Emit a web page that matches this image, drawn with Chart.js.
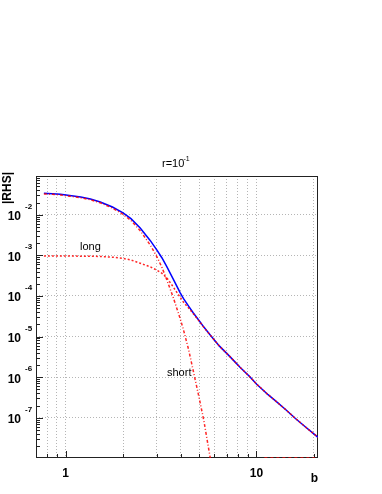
<!DOCTYPE html>
<html>
<head>
<meta charset="utf-8">
<script src="https://cdn.jsdelivr.net/npm/chart.js@4.4.0/dist/chart.umd.min.js"></script>
<style>
  html, body { margin: 0; padding: 0; background: #fff; }
  #wrap { width: 382px; height: 494px; }
</style>
</head>
<body>
<div id="wrap"><canvas id="rhs" width="382" height="494"></canvas></div>
<script>
// impact parameter b and |RHS|
const bValues = [0.77, 0.85, 0.94, 1.05, 1.2, 1.35, 1.52, 1.76, 2.0, 2.2, 2.46, 2.78, 3.01, 3.2, 3.39, 3.67,
  3.98, 4.14, 4.4, 4.67, 5.0, 5.3, 5.71, 6.4, 7.26, 8.2, 9.23, 10, 11.5, 12.5, 14.3, 16, 18, 21];
const totalRHS = [0.0336, 0.0330, 0.0318, 0.0297, 0.0273, 0.0244, 0.0206, 0.0155, 0.01107, 0.0080, 0.0047,
  0.0023, 0.00135, 8.6e-4, 5.3e-4, 2.55e-4, 1.21e-4, 8.7e-5, 5.7e-5, 3.8e-5, 2.48e-5, 1.71e-5, 1.11e-5,
  5.8e-6, 3.2e-6, 1.75e-6, 1.02e-6, 6.8e-7, 3.7e-7, 2.67e-7, 1.55e-7, 9.6e-8, 6.0e-8, 3.3e-8];
const longRHS = [9.6e-4, 9.6e-4, 9.6e-4, 9.6e-4, 9.55e-4, 9.5e-4, 9.4e-4, 9.0e-4, 8.4e-4, 7.7e-4, 6.4e-4,
  5.2e-4, 4.3e-4, 3.6e-4, 2.8e-4, 1.65e-4, 9.3e-5, 7.1e-5, 5.1e-5, 3.65e-5, 2.43e-5, 1.69e-5, 1.1e-5,
  5.8e-6, 3.2e-6, 1.75e-6, 1.02e-6, 6.8e-7, 3.7e-7, 2.67e-7, 1.55e-7, 9.6e-8, 6.0e-8, 3.3e-8];
const shortB = [0.77, 0.85, 0.94, 1.05, 1.2, 1.35, 1.52, 1.76, 2.0, 2.2, 2.46, 2.78, 3.01, 3.2, 3.39, 3.67,
  3.98, 4.14, 4.4, 4.67, 5.0, 5.3, 5.71, 6.0];
const shortRHS = [0.0326, 0.0320, 0.0308, 0.0287, 0.0263, 0.0234, 0.0197, 0.0146, 0.0102, 0.00723, 0.00406,
  0.00178, 9.2e-4, 5.0e-4, 2.5e-4, 9.0e-5, 2.8e-5, 1.5e-5, 5.0e-6, 1.4e-6, 3.2e-7, 8.5e-8, 1.1e-8, 3.0e-9];

const X_MIN = 0.705, X_MAX = 21;
const Y_MIN = 1.02e-8, Y_MAX = 0.09;

// short part sits on the floor of the plot at large b
const floorB = [11, 20.2];
const floorRHS = [Y_MIN, Y_MIN];

const xGridValues = [0.8, 0.9, 1, 2, 3, 4, 5, 6, 7, 8, 9, 10, 20];
const xTickValues = [1, 10];
const xTickLabels = ['1', '10'];
const yDecades = [-7, -6, -5, -4, -3, -2];

const FONT = '"Liberation Sans", Arial, Helvetica, sans-serif';

const points = (xs, ys) => xs.map((b, i) => ({ x: b, y: ys[i] }));

const rootFrame = {
  id: 'rootFrame',
  beforeDraw(chart) {
    const { ctx, width, height } = chart;
    ctx.save();
    ctx.fillStyle = '#fff';
    ctx.fillRect(0, 0, width, height);
    ctx.restore();
  },
  beforeDatasetsDraw(chart) {
    const { ctx, chartArea: area } = chart;
    const xs = chart.scales.x;
    const ys = chart.scales.y;
    ctx.save();

    // frame
    ctx.strokeStyle = '#222';
    ctx.lineWidth = 1;
    ctx.strokeRect(area.left + 0.5, area.top + 0.5, area.right - area.left - 1, area.bottom - area.top - 1);

    // tick marks on the inside, ROOT style
    ctx.beginPath();
    for (let k = -8; k <= -2; k++) {
      for (let m = 1; m <= 9; m++) {
        const v = m * Math.pow(10, k);
        if (v < Y_MIN || v > Y_MAX) continue;
        const py = Math.round(ys.getPixelForValue(v)) + 0.5;
        const len = m === 1 ? 7 : 4;
        ctx.moveTo(area.left, py);
        ctx.lineTo(area.left + len, py);
      }
    }
    xGridValues.forEach((v) => {
      const px = Math.round(xs.getPixelForValue(v)) + 0.5;
      const len = xTickValues.includes(v) ? 7 : 4;
      ctx.moveTo(px, area.bottom);
      ctx.lineTo(px, area.bottom - len);
    });
    ctx.stroke();
    ctx.restore();
  },
  afterDraw(chart) {
    const { ctx } = chart;
    const xs = chart.scales.x;
    const ys = chart.scales.y;
    ctx.save();
    ctx.fillStyle = '#000';
    ctx.textBaseline = 'alphabetic';

    // y labels: 10 with exponent
    yDecades.forEach((k) => {
      const py = ys.getPixelForValue(Math.pow(10, k));
      ctx.font = 'bold 12px ' + FONT;
      ctx.textAlign = 'right';
      ctx.fillText('10', 21, py + 5.5);
      ctx.font = 'bold 8px ' + FONT;
      ctx.textAlign = 'left';
      ctx.fillText(String(k), 25, py - 6);
    });

    // x labels
    ctx.font = 'bold 12px ' + FONT;
    ctx.textAlign = 'center';
    xTickValues.forEach((v, i) => {
      ctx.fillText(xTickLabels[i], xs.getPixelForValue(v), 477);
    });

    // axis titles
    ctx.fillText('b', 314.5, 481.5);
    ctx.save();
    ctx.translate(10.5, 172);
    ctx.rotate(-Math.PI / 2);
    ctx.textAlign = 'right';
    ctx.fillText('|RHS|', 0, 0);
    ctx.restore();

    // title
    ctx.font = '11px ' + FONT;
    ctx.textAlign = 'left';
    ctx.fillText('r=10', 162, 167);
    ctx.font = '7px ' + FONT;
    ctx.fillText('-1', 183.5, 161);

    // curve labels
    ctx.font = '11px ' + FONT;
    ctx.fillText('long', 80, 250);
    ctx.fillText('short', 167, 376);

    ctx.restore();
  }
};

const canvas = document.getElementById('rhs');

new Chart(canvas, {
  type: 'line',
  data: {
    datasets: [
      {
        label: 'long',
        data: points(bValues, longRHS),
        borderColor: 'rgba(255,0,0,0.85)',
        borderWidth: 1.5,
        borderDash: [2, 2],
      },
      {
        label: 'short',
        data: points(shortB, shortRHS),
        borderColor: 'rgba(255,0,0,0.85)',
        borderWidth: 1.5,
        borderDash: [3, 2, 1, 2],
      },
      {
        label: 'short floor',
        data: points(floorB, floorRHS),
        borderColor: 'rgba(255,0,0,0.85)',
        borderWidth: 1.5,
        borderDash: [3, 3],
      },
      {
        label: 'total',
        data: points(bValues, totalRHS),
        borderColor: '#0000ff',
        borderWidth: 1.5,
      },
    ],
  },
  options: {
    responsive: false,
    animation: false,
    devicePixelRatio: 1,
    layout: { padding: { top: 176, right: 64, left: 0, bottom: 0 } },
    elements: { point: { radius: 0 }, line: { tension: 0 } },
    plugins: { legend: { display: false }, tooltip: { enabled: false } },
    scales: {
      x: {
        type: 'logarithmic',
        min: X_MIN,
        max: X_MAX,
        afterBuildTicks: (scale) => { scale.ticks = xGridValues.map((v) => ({ value: v })); },
        afterFit: (scale) => { scale.height = 36; },
        ticks: { display: false },
        grid: { color: 'rgba(150,150,150,0.7)', lineWidth: 1, drawTicks: false },
        border: { display: false, dash: [1, 2] },
      },
      y: {
        type: 'logarithmic',
        min: Y_MIN,
        max: Y_MAX,
        afterBuildTicks: (scale) => { scale.ticks = yDecades.map((k) => ({ value: Math.pow(10, k) })); },
        afterFit: (scale) => { scale.width = 36; },
        ticks: { display: false },
        grid: { color: 'rgba(150,150,150,0.7)', lineWidth: 1, drawTicks: false },
        border: { display: false, dash: [1, 2] },
      },
    },
  },
  plugins: [rootFrame],
});
</script>
</body>
</html>
